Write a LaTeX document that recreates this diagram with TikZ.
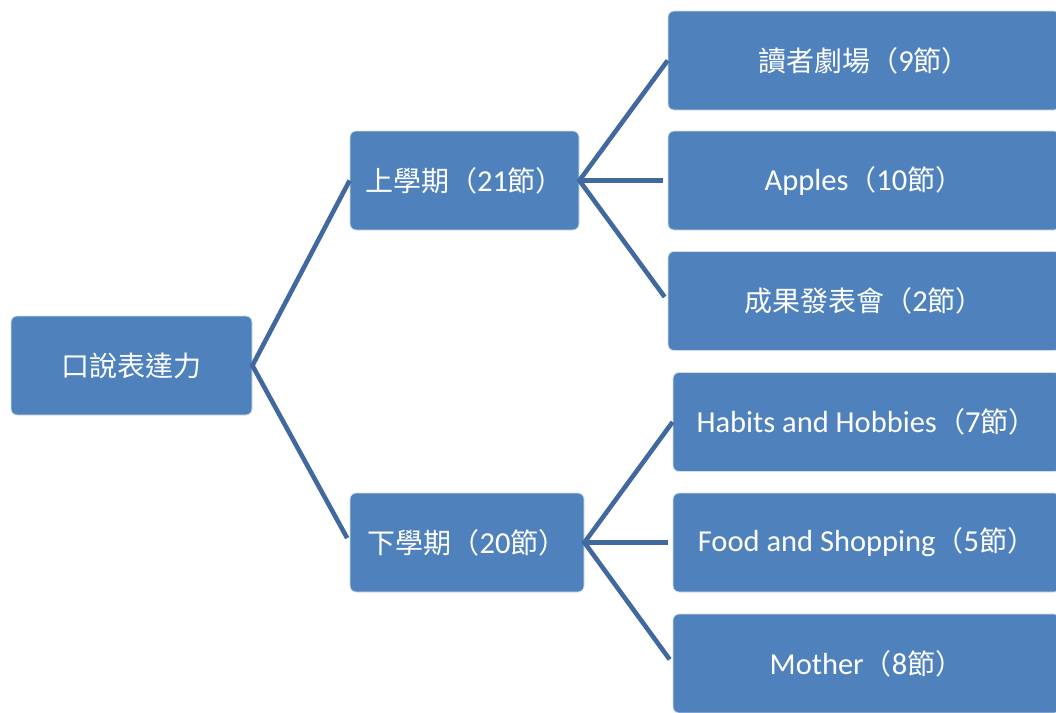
\documentclass[tikz,border=0pt]{standalone}
\usepackage{fontspec}
\setmainfont{Carlito}
\newfontfamily\cjk{Noto Sans CJK TC}
\newcommand\zh[1]{{\cjk\fontsize{28}{34}\selectfont #1}}
\definecolor{boxblue}{HTML}{4F81BD}
\definecolor{lineblue}{HTML}{41699F}
\begin{document}
\begin{tikzpicture}[x=1pt,y=-1pt,
  box/.style={draw=white!75!boxblue, line width=0.8pt, fill=boxblue, rounded corners=6pt,
    text=white, inner sep=0pt, minimum height=99pt, font=\fontsize{30.5}{36}\selectfont},
  conn/.style={draw=lineblue, line width=4.6pt, line join=miter, shorten >=5pt}]
\useasboundingbox (0,0) rectangle (1056,712);
\node[box, minimum width=241pt] (root) at (131.5,365.5) {\zh{口說表達力}};
\node[box, minimum width=229pt] (up) at (464.5,180.5) {\zh{上學期（}21\zh{節）}};
\node[box, minimum width=234pt] (down) at (467,542.5) {\zh{下學期（}20\zh{節）}};
\node[box, minimum width=392pt] (a1) at (864,60.5) {\zh{讀者劇場（}9\zh{節）}};
\node[box, minimum width=392pt] (a2) at (864,180.5) {Apples\zh{（}10\zh{節）}};
\node[box, minimum width=392pt] (a3) at (864,301) {\zh{成果發表會（}2\zh{節）}};
\node[box, minimum width=387pt] (b1) at (866.5,422) {Habits and Hobbies\zh{（}7\zh{節）}};
\node[box, minimum width=387pt] (b2) at (866.5,542.5) {Food and Shopping\zh{（}5\zh{節）}};
\node[box, minimum width=387pt] (b3) at (866.5,663.5) {Mother\zh{（}8\zh{節）}};
\draw[conn] (up.west) -- (root.east) -- (down.west);
\draw[conn] (a1.west) -- (up.east) -- (a3.west);
\draw[conn] (up.east) -- (a2.west);
\draw[conn] (b1.west) -- (down.east) -- (b3.west);
\draw[conn] (down.east) -- (b2.west);
\end{tikzpicture}
\end{document}
